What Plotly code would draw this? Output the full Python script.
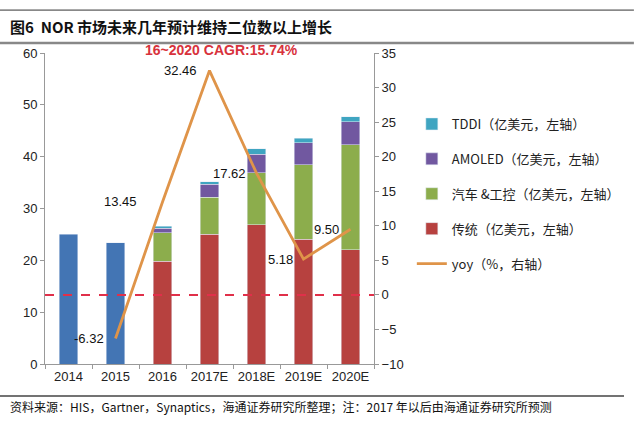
import plotly.graph_objects as go

categories = ["2014", "2015", "2016", "2017E", "2018E", "2019E", "2020E"]
total_old = [25.0, 23.4, None, None, None, None, None]
traditional = [None, None, 19.8, 25.0, 26.9, 24.1, 22.0]
auto_ind = [None, None, 5.5, 7.2, 10.0, 14.3, 20.3]
amoled = [None, None, 0.9, 2.5, 3.6, 4.3, 4.4]
tddi = [None, None, 0.4, 0.5, 1.0, 0.9, 1.0]
yoy_cats = ["2015", "2016", "2017E", "2018E", "2019E", "2020E"]
yoy = [-6.32, 13.45, 32.46, 17.62, 5.18, 9.50]
yoy_labels = ["-6.32", "13.45", "32.46", "17.62", "5.18", "9.50"]
label_xshift = [-10, -24, -11, -9, -9, -10]

font_fam = "Liberation Sans, Arial, Noto Sans CJK SC, sans-serif"
cjk = "Noto Sans CJK SC, sans-serif"

fig = go.Figure()
fig.add_bar(x=categories, y=total_old, marker_color="#4375b4", showlegend=False, width=0.39)
fig.add_bar(x=categories, y=traditional, marker_color="#b7413f", name="传统（亿美元，左轴）",
            width=0.39, legendrank=4, legendgroup="d")
fig.add_bar(x=categories, y=auto_ind, marker_color="#8cad4c", name="汽车 &工控（亿美元，左轴）",
            width=0.39, legendrank=3, legendgroup="c")
fig.add_bar(x=categories, y=amoled, marker_color="#7158a0", name="AMOLED（亿美元，左轴）",
            width=0.39, legendrank=2, legendgroup="b")
fig.add_bar(x=categories, y=tddi, marker_color="#3fa5c1", name="TDDI（亿美元，左轴）",
            width=0.39, legendrank=1, legendgroup="a")
fig.add_scatter(x=yoy_cats, y=yoy, yaxis="y2", mode="lines", line=dict(color="#df9449", width=2.8),
                name="yoy（%，右轴）", legendrank=5, legendgroup="e")

for c, v, t, s in zip(yoy_cats, yoy, yoy_labels, label_xshift):
    fig.add_annotation(x=categories.index(c), y=v, yref="y2", text=t, showarrow=False, xanchor="right",
                       xshift=s, font=dict(size=13, color="#111", family=font_fam))

# dashed zero line of right axis
fig.add_shape(type="line", xref="paper", x0=0, x1=1, yref="y2", y0=0, y1=0,
              line=dict(color="#e0304a", width=2, dash="dash"))

# decorative frame lines
fig.add_shape(type="line", xref="paper", yref="paper", x0=-0.137, x1=1.79, y0=1.138, y1=1.138,
              line=dict(color="#333", width=1))
fig.add_shape(type="line", xref="paper", yref="paper", x0=-0.137, x1=1.79, y0=1.032, y1=1.032,
              line=dict(color="#888", width=2.5))
fig.add_shape(type="line", xref="paper", yref="paper", x0=-0.137, x1=1.76, y0=-0.103, y1=-0.103,
              line=dict(color="#444", width=1.5))

fig.add_annotation(xref="paper", yref="paper", x=-0.112, y=1.085, xanchor="left", yanchor="middle",
                   text="<b>图6  NOR 市场未来几年预计维持二位数以上增长</b>", showarrow=False,
                   font=dict(size=15, color="#111", family=cjk))
fig.add_annotation(xref="paper", yref="paper", x=0.535, y=1.01, xanchor="center", yanchor="middle",
                   text="<b>16~2020 CAGR:15.74%</b>", showarrow=False,
                   font=dict(size=14, color="#d8323c", family=font_fam))
fig.add_annotation(xref="paper", yref="paper", x=-0.112, y=-0.138, xanchor="left", yanchor="middle",
                   text="资料来源：HIS，Gartner，Synaptics，海通证券研究所整理；注：2017 年以后由海通证券研究所预测",
                   showarrow=False, font=dict(size=12, color="#111", family=cjk))

fig.update_layout(
    width=640, height=429,
    margin=dict(l=45, r=266, t=53, b=65),
    paper_bgcolor="white", plot_bgcolor="white",
    barmode="stack",
    font=dict(family=font_fam, size=13, color="#333"),
    xaxis=dict(type="category", categoryorder="array", categoryarray=categories,
               range=[-0.5, len(categories) - 0.5], tickangle=0,
               showline=True, linecolor="#999", linewidth=1, ticks="outside", tickson="boundaries",
               ticklen=4, tickcolor="#999", showgrid=False, tickfont=dict(size=13, color="#222")),
    yaxis=dict(range=[0, 60], dtick=10, showline=True, linecolor="#999", ticks="outside", ticklen=4,
               tickcolor="#999", showgrid=False, zeroline=False, tickfont=dict(size=13, color="#222")),
    yaxis2=dict(range=[-10, 35], dtick=5, overlaying="y", side="right", showline=True, linecolor="#999",
                ticks="outside", ticklen=4, tickcolor="#999", showgrid=False, zeroline=False,
                tickfont=dict(size=13, color="#222")),
    legend=dict(x=1.115, y=0.82, xanchor="left", yanchor="top", traceorder="grouped", tracegroupgap=15,
                font=dict(size=13, color="#222", family=cjk), bgcolor="rgba(0,0,0,0)"),
)

fig.write_html("out.html")
